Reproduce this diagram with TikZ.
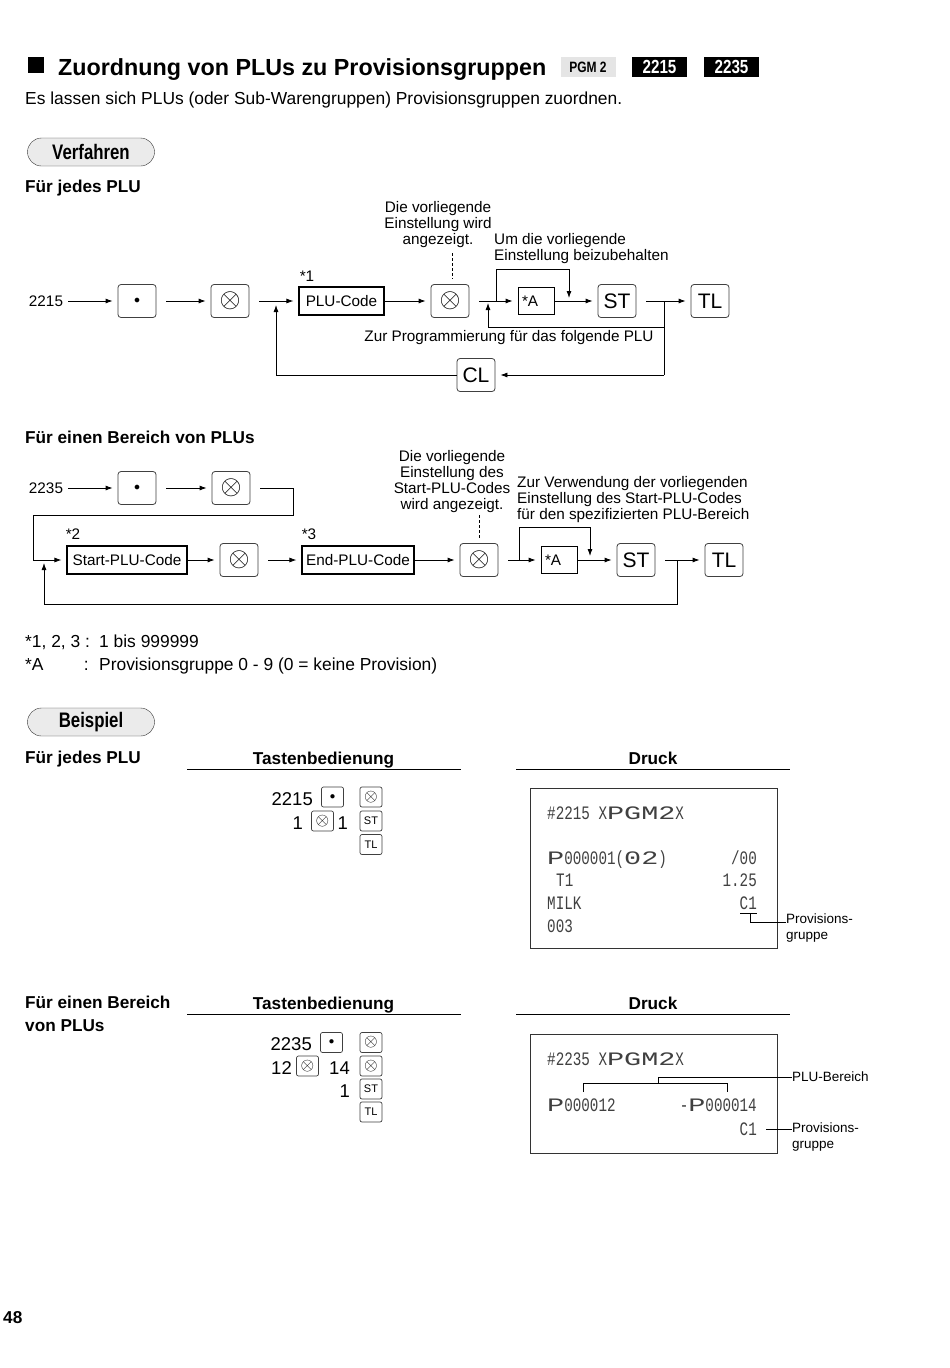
\documentclass[tikz,border=0pt]{standalone}
\usepackage{fontspec}
\setmainfont{Liberation Sans}
\newfontfamily\condfont[FakeStretch=0.8]{Liberation Sans}
\newfontfamily\dotfont[FakeStretch=0.75]{Liberation Mono}
\newfontfamily\dotwide[FakeStretch=1.5]{Liberation Mono}
\newcommand{\dw}[1]{{\dotwide #1}}
\newcommand{\bigx}{\scalebox{1.3}{$\otimes$}}
\newcommand{\smallx}{\scalebox{1.6}{$\otimes$}}
\usetikzlibrary{arrows.meta}

\begin{document}
\begin{tikzpicture}[
                x = 1pt, y = -1pt,
                txt/.style = {inner sep = 0pt, font = \fontsize{17.4}{21}\selectfont},
                head/.style = {inner sep = 0pt, font = \bfseries\fontsize{17.2}{23}\selectfont},
                note/.style = {inner sep = 0pt, align = center, font = \fontsize{15.3}{16}\selectfont},
                pill/.style = {draw = black!80, fill = black!8, rounded corners = 14pt, minimum width = 127pt, minimum height = 28pt, inner sep = 0pt, font = \condfont\bfseries\fontsize{21}{21}\selectfont},
                tag/.style = {fill = black, text = white, minimum width = 55pt, minimum height = 20pt, inner sep = 0pt, font = \condfont\bfseries\fontsize{19}{19}\selectfont},
                key/.style = {draw = black!75, line width = .8pt, fill = white, rounded corners = 3pt, minimum width = 38pt, minimum height = 33pt, inner sep = 0pt, font = \fontsize{21}{21}\selectfont},
                dkey/.style = {key, font = \fontsize{12}{12}\selectfont},
                skey/.style = {draw = black!75, line width = .7pt, rounded corners = 2pt, minimum width = 22pt, minimum height = 20pt, inner sep = 0pt, font = \fontsize{11}{11}\selectfont},
                code/.style = {draw, line width = 1.1pt, minimum height = 28pt, inner sep = 0pt, font = \fontsize{15.3}{15.3}\selectfont},
                abox/.style = {draw, line width = .8pt, minimum width = 36pt, minimum height = 27pt, inner xsep = 4pt, text width = 28pt, align = left, font = \fontsize{15.3}{15.3}\selectfont},
                arr/.style = {draw, line width = .8pt, -{Latex[length = 7pt, width = 5pt]}, shorten > = 5pt},
                off/.style = {shorten < = 10pt},
                link/.style = {draw, line width = .8pt},
                hint/.style = {draw, line width = .6pt, dash pattern = on 3pt off 2pt, shorten > = 5pt},
                seq/.style = {inner sep = 0pt, font = \fontsize{18.5}{18.5}\selectfont},
                slip/.style = {draw = black!80, line width = .8pt},
                dots/.style = {inner sep = 0pt, text = black!75, font = \dotfont\fontsize{19}{19}\selectfont},
                side/.style = {inner sep = 0pt, align = left, font = \fontsize{13.5}{16}\selectfont},
            ]
            \fill[white] (0, 0) rectangle (950, 1368);
            \useasboundingbox (0, 0) rectangle (950, 1368);

            \fill (28, 57) rectangle (44, 73);
            \node (title) at (58, 75) [anchor = base west, inner sep = 0pt, font = \bfseries\fontsize{23.3}{24}\selectfont] {Zuordnung von PLUs zu Provisionsgruppen};
            \node (pgm) at (588, 67) [tag, fill = black!10, text = black, font = \condfont\bfseries\fontsize{15}{15}\selectfont] {PGM 2};
            \node (tag1) at (659.5, 67) [tag] {2215};
            \node (tag2) at (731.5, 67) [tag] {2235};
            \node (intro) at (25, 104) [txt, anchor = base west] {Es lassen sich PLUs (oder Sub-Warengruppen) Provisionsgruppen zuordnen.};

            \node (verf) at (91, 152) [pill] {Verfahren};
            \node (each) at (25, 192) [head, anchor = base west] {Für jedes PLU};

            \node (n2215) at (46, 301) [note] {2215};
            \node (dot1) at (137, 301) [dkey] {$\bullet$};
            \node (x1) at (230, 301) [key] {\bigx};
            \node (plu) at (341.5, 301) [code, minimum width = 85pt] {PLU-Code};
            \node (x2) at (450, 301) [key] {\bigx};
            \node (a1) at (536, 301) [abox] {*A};
            \node (st1) at (617, 301) [key] {ST};
            \node (tl1) at (710, 301) [key] {TL};
            \node (cl) at (476, 375) [key] {CL};
            \node (star1) at (307, 276) [note] {*1};
            \node (note1) at (438, 225) [note] {Die vorliegende\\Einstellung wird\\angezeigt.};
            \node (note2) at (494, 249) [note, anchor = west, align = left] {Um die vorliegende\\Einstellung beizubehalten};
            \node (note3) at (509, 338) [note] {Zur Programmierung für das folgende PLU};

            \coordinate (j1) at (276, 301);
            \coordinate (j2) at (488, 301);
            \coordinate (j3) at (496, 301);
            \coordinate (j4) at (569, 301);
            \coordinate (j5) at (664, 301);
            \coordinate (b1) at (496, 269);
            \coordinate (b2) at (569, 269);
            \coordinate (r1) at (664, 327);
            \coordinate (r2) at (488, 327);
            \coordinate (c1) at (664, 375);
            \coordinate (c2) at (276, 375);
            \coordinate (d1) at (452, 253);

            \path[arr] ([xshift = 5pt]n2215.east) -- (dot1);
            \path[arr, off] (dot1) -- (x1);
            \path[arr, off] (x1) -- (plu);
            \path[arr] (plu) -- (x2);
            \path[arr, off] (x2) -- (a1);
            \path[arr] (a1) -- (st1);
            \path[arr, off] (st1) -- (tl1);
            \path[arr, shorten > = 3pt] (j3) -- (b1) -- (b2) -- (j4);
            \path[arr, shorten > = 2pt] (r1) -- (r2) -- (j2);
            \path[link] (j5) -- (c1);
            \path[arr] (c1) -- (cl);
            \path[arr, shorten > = 4pt] (cl) -- (c2) -- (j1);
            \path[hint] (d1) -- (d1 |- x2.north);

            \node (range) at (25, 443) [head, anchor = base west] {Für einen Bereich von PLUs};

            \node (n2235) at (46, 488) [note] {2235};
            \node (dot2) at (137, 488) [dkey] {$\bullet$};
            \node (x3) at (231, 488) [key] {\bigx};
            \node (start) at (127, 560) [code, minimum width = 120pt] {Start-PLU-Code};
            \node (x4) at (239, 560) [key] {\bigx};
            \node (end) at (358, 560) [code, minimum width = 112pt] {End-PLU-Code};
            \node (x5) at (479, 560) [key] {\bigx};
            \node (a2) at (559, 560) [abox] {*A};
            \node (st2) at (636, 560) [key] {ST};
            \node (tl2) at (724, 560) [key] {TL};
            \node (star2) at (73, 534) [note] {*2};
            \node (star3) at (309, 534) [note] {*3};
            \node (note4) at (452, 482) [note] {Die vorliegende\\Einstellung des\\Start-PLU-Codes\\wird angezeigt.};
            \node (note5) at (517, 500) [note, anchor = west, align = left] {Zur Verwendung der vorliegenden\\Einstellung des Start-PLU-Codes\\für den spezifizierten PLU-Bereich};

            \coordinate (k1) at (293, 515);
            \coordinate (k2) at (33, 515);
            \coordinate (k3) at (33, 560);
            \coordinate (j6) at (44, 560);
            \coordinate (j7) at (677, 560);
            \coordinate (q1) at (677, 604);
            \coordinate (q2) at (44, 604);
            \coordinate (j8) at (519, 560);
            \coordinate (j9) at (590, 560);
            \coordinate (b3) at (519, 527);
            \coordinate (b4) at (590, 527);
            \coordinate (d2) at (479, 515);

            \path[arr] ([xshift = 5pt]n2235.east) -- (dot2);
            \path[arr, off] (dot2) -- (x3);
            \path[arr] ([xshift = 10pt]x3.east) -| (k1) -- (k2) -- (k3) -- (start);
            \path[arr] (start) -- (x4);
            \path[arr, off] (x4) -- (end);
            \path[arr] (end) -- (x5);
            \path[arr, off] (x5) -- (a2);
            \path[arr] (a2) -- (st2);
            \path[arr, off] (st2) -- (tl2);
            \path[arr, shorten > = 4pt] (j8) -- (b3) -- (b4) -- (j9);
            \path[arr, shorten > = 3pt] (j7) -- (q1) -- (q2) -- (j6);
            \path[hint] (d2) -- (d2 |- x5.north);

            \node (fa) at (25, 647) [txt, anchor = base west] {*1, 2, 3 :};
            \node (fb) at (99, 647) [txt, anchor = base west] {1 bis 999999};
            \node (fc) at (25, 670) [txt, anchor = base west] {*A};
            \node (fd) at (89, 670) [txt, anchor = base east] {:};
            \node (fe) at (99, 670) [txt, anchor = base west] {Provisionsgruppe 0 - 9 (0 = keine Provision)};

            \node (beisp) at (91, 722) [pill] {Beispiel};
            \node (each2) at (25, 763) [head, anchor = base west] {Für jedes PLU};
            \node (keys1) at (323.5, 764) [head, anchor = base] {Tastenbedienung};
            \node (print1) at (653, 764) [head, anchor = base] {Druck};
            \draw[line width = .8pt] (187, 769) -- (461, 769);
            \draw[line width = .8pt] (516, 769) -- (790, 769);

            \node (s11) at (313, 805) [seq, anchor = base east] {2215};
            \node (k11) at (332.5, 797) [skey] {$\bullet$};
            \node (k12) at (371, 797) [skey] {\smallx};
            \node (s12) at (303, 829) [seq, anchor = base east] {1};
            \node (k13) at (322.5, 821) [skey] {\smallx};
            \node (s13) at (348, 829) [seq, anchor = base east] {1};
            \node (k14) at (371, 821) [skey] {ST};
            \node (k15) at (371, 844.5) [skey] {TL};

            \draw[slip] (530, 788) rectangle (777, 948);
            \node (r11) at (547, 819) [dots, anchor = base west] {\#2215 X\dw{PGM2}X};
            \node (r12) at (547, 864) [dots, anchor = base west] {\dw{P}000001(\dw{02})};
            \node (r13) at (757, 864) [dots, anchor = base east] {/00};
            \node (r14) at (556, 886) [dots, anchor = base west] {T1};
            \node (r15) at (757, 886) [dots, anchor = base east] {1.25};
            \node (r16) at (547, 909) [dots, anchor = base west] {MILK};
            \node (r17) at (757, 909) [dots, anchor = base east] {C1};
            \node (r18) at (547, 932) [dots, anchor = base west] {003};
            \node (pg1) at (786, 928) [side, anchor = west] {Provisions-\\gruppe};

            \coordinate (u1) at (740, 913);
            \coordinate (u2) at (757, 913);
            \coordinate (u3) at (750, 913);
            \coordinate (u4) at (750, 922);
            \path[link] (u1) -- (u2);
            \path[link] (u3) -- (u4) -- (u4 -| pg1.west);

            \node (range2a) at (25, 1008) [head, anchor = base west] {Für einen Bereich};
            \node (range2b) at (25, 1031) [head, anchor = base west] {von PLUs};
            \node (keys2) at (323.5, 1009) [head, anchor = base] {Tastenbedienung};
            \node (print2) at (653, 1009) [head, anchor = base] {Druck};
            \draw[line width = .8pt] (187, 1014) -- (461, 1014);
            \draw[line width = .8pt] (516, 1014) -- (790, 1014);

            \node (s21) at (312, 1050) [seq, anchor = base east] {2235};
            \node (k21) at (331.5, 1042.5) [skey] {$\bullet$};
            \node (k22) at (371, 1042.5) [skey] {\smallx};
            \node (s22) at (292, 1074) [seq, anchor = base east] {12};
            \node (k23) at (307.5, 1066) [skey] {\smallx};
            \node (s23) at (350, 1074) [seq, anchor = base east] {14};
            \node (k24) at (371, 1066) [skey] {\smallx};
            \node (s24) at (350, 1097) [seq, anchor = base east] {1};
            \node (k25) at (371, 1089) [skey] {ST};
            \node (k26) at (371, 1112) [skey] {TL};

            \draw[slip] (530, 1034) rectangle (777, 1153);
            \node (r21) at (547, 1065) [dots, anchor = base west] {\#2235 X\dw{PGM2}X};
            \node (r22) at (547, 1111) [dots, anchor = base west] {\dw{P}000012};
            \node (r23) at (757, 1111) [dots, anchor = base east] {-\dw{P}000014};
            \node (r24) at (757, 1135) [dots, anchor = base east] {C1};
            \node (bereich) at (792, 1077) [side, anchor = west] {PLU-Bereich};
            \node (pg2) at (792, 1137) [side, anchor = west] {Provisions-\\gruppe};

            \coordinate (v1) at (583, 1092);
            \coordinate (v2) at (583, 1083);
            \coordinate (v3) at (727, 1083);
            \coordinate (v4) at (727, 1092);
            \coordinate (v5) at (658, 1083);
            \coordinate (v6) at (658, 1077);
            \coordinate (w1) at (766, 1129);
            \path[link] (v1) -- (v2) -- (v3) -- (v4);
            \path[link] (v5) -- (v6) -- (v6 -| bereich.west);
            \path[link] (w1) -- (w1 -| pg2.west);

            \node (page) at (3, 1323) [head, anchor = base west] {48};
        \end{tikzpicture}
\end{document}
